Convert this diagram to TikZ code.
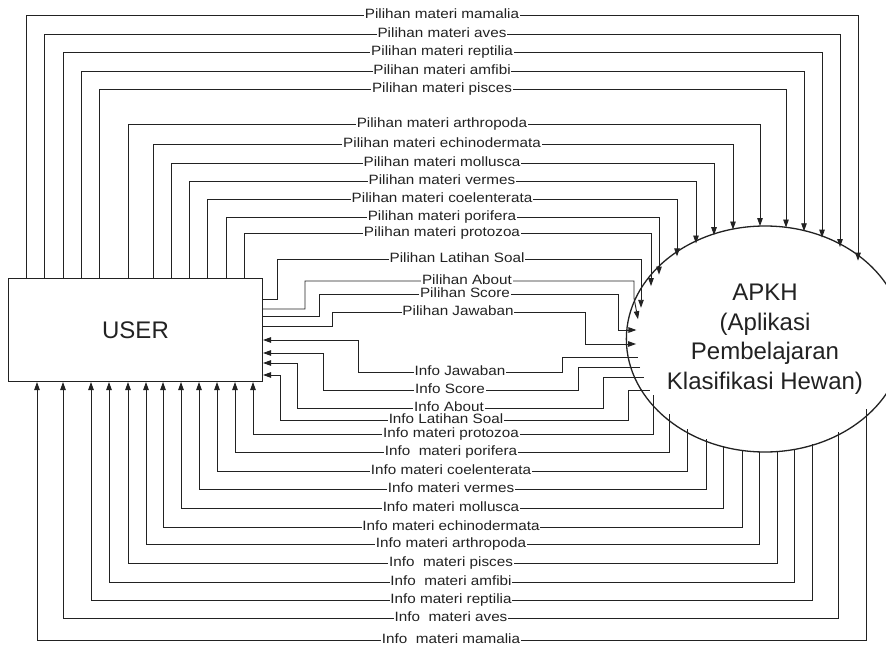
\documentclass[tikz,border=0pt]{standalone}
\usepackage{fontspec}
\setmainfont{Liberation Sans}
\newfontfamily\lblfont{Liberation Sans}[FakeStretch=1.13]
\usetikzlibrary{shapes.geometric,arrows.meta,calc}
\definecolor{ink}{HTML}{222222}
\begin{document}
\begin{tikzpicture}[x=1pt,y=-1pt,
  conn/.style={draw=ink, line width=0.9pt},
  tip/.style={-{Triangle[length=8pt,width=5.5pt]}},
  lbl/.style={fill=white, inner xsep=0.8pt, inner ysep=0pt, text height=9.6pt, text depth=2.6pt, font={\lblfont\fontsize{13.5}{15}\selectfont}, text=ink},
  big/.style={font={\fontsize{24}{29.5}\selectfont}, text=ink}]
\fill[white] (0,0) rectangle (886,647);
\useasboundingbox (0,0) rectangle (886,647);

\node[draw=ink, line width=1pt, minimum width=254pt, minimum height=103pt, inner sep=0pt, anchor=north west, big] (user) at (8,278) {USER};
\node[ellipse, draw=ink, line width=1.3pt, minimum width=258pt, minimum height=226pt, inner sep=0pt, align=center, big] (apkh) at (765,339) {APKH\\(Aplikasi\\Pembelajaran\\Klasifikasi Hewan)};

% Pilihan materi (USER -> APKH, over the top)
\foreach \lx/\yy/\rx/\nm [count=\i] in {26/15.5/858/mamalia, 44/34/840/aves, 63/52.5/822/reptilia, 81/71/804/amfibi, 99/89/786/pisces, 128/124.5/760/arthropoda, 153/144.5/733/echinodermata, 171/163/714/mollusca, 189/181/696/vermes, 207/199.5/677/coelenterata, 226/217.5/659/porifera, 244/233/651/protozoa}{
  \pgfmathsetmacro{\dy}{113*sqrt(1-((\rx-765)/129)^2)}
  \draw[conn,tip] ($(user.north west)+(\lx-8,0)$) -- (\lx,\yy) -- (\rx,\yy) -- ($(apkh.center)+(\rx-765,-\dy)$);
  \node[lbl] (p\i) at (442,\yy) {Pilihan materi \nm};
}

% Info materi (APKH -> USER, under the bottom)
\foreach \lx/\yy/\rx/\nm [count=\i] in {253/434/653/{Info materi protozoa}, 235/452/669/{Info~ materi porifera}, 217/471/687/{Info materi coelenterata}, 199/489/706/{Info materi vermes}, 181/508/723/{Info materi mollusca}, 163/527/742/{Info materi echinodermata}, 146/544/759/{Info materi arthropoda}, 128/563/777/{Info~ materi pisces}, 109/582/794/{Info~ materi amfibi}, 91/600/812/{Info materi reptilia}, 63/618/838/{Info~ materi aves}, 37/640/866/{Info~ materi mamalia}}{
  \pgfmathsetmacro{\dy}{113*sqrt(1-((\rx-765)/129)^2)}
  \draw[conn,tip] ($(apkh.center)+(\rx-765,\dy)$) -- (\rx,\yy) -- (\lx,\yy) -- ($(user.south west)+(\lx-8,0)$);
  \node[lbl] (q\i) at (451,\yy) {\nm};
}

% middle: Pilihan
\draw[conn,tip] ($(user.north east)+(0,21)$) -- (277.7,299) -- (277.7,259) -- (641,259) -- ($(apkh.center)+(-124,-31.2)$);
\node[lbl] (pls) at (457,259) {Pilihan Latihan Soal};
\draw[conn,tip] ($(user.north east)+(0,31)$) -- (305,309) -- (305,281) -- (634,281) -- (634,298) -- ($(apkh.center)+(-127,-19.8)$);
\node[lbl] (pab) at (467,281) {Pilihan About};
\draw[conn,tip] ($(user.north east)+(0,38)$) -- (319,316) -- (319,294) -- (618,294) -- (618,330) -- ($(apkh.center)+(-128.6,-9)$);
\node[lbl] (psc) at (465,294) {Pilihan Score};
\draw[conn,tip] ($(user.north east)+(0,48)$) -- (332,326) -- (332,312) -- (585,312) -- (585,344) -- ($(apkh.center)+(-128.9,5)$);
\node[lbl] (pjw) at (458,312) {Pilihan Jawaban};

% middle: Info
\draw[conn,tip] ($(apkh.center)+(-127.3,18)$) -- (562,357) -- (562,372) -- (358,372) -- (358,340) -- ($(user.north east)+(0,62)$);
\node[lbl] (ijw) at (460,372) {Info Jawaban};
\draw[conn,tip] ($(apkh.center)+(-125,28)$) -- (578,367) -- (578,390) -- (323,390) -- (323,353) -- ($(user.north east)+(0,75)$);
\node[lbl] (isc) at (450,390) {Info Score};
\draw[conn,tip] ($(apkh.center)+(-121.5,38)$) -- (603,377) -- (603,408) -- (297,408) -- (297,363) -- ($(user.north east)+(0,85)$);
\node[lbl] (iab) at (449,408) {Info About};
\draw[conn,tip] ($(apkh.center)+(-115.1,51)$) -- (628,390) -- (628,420) -- (280,420) -- (280,375) -- ($(user.north east)+(0,97)$);
\node[lbl] (ils) at (446,420) {Info Latihan Soal};
\end{tikzpicture}
\end{document}
